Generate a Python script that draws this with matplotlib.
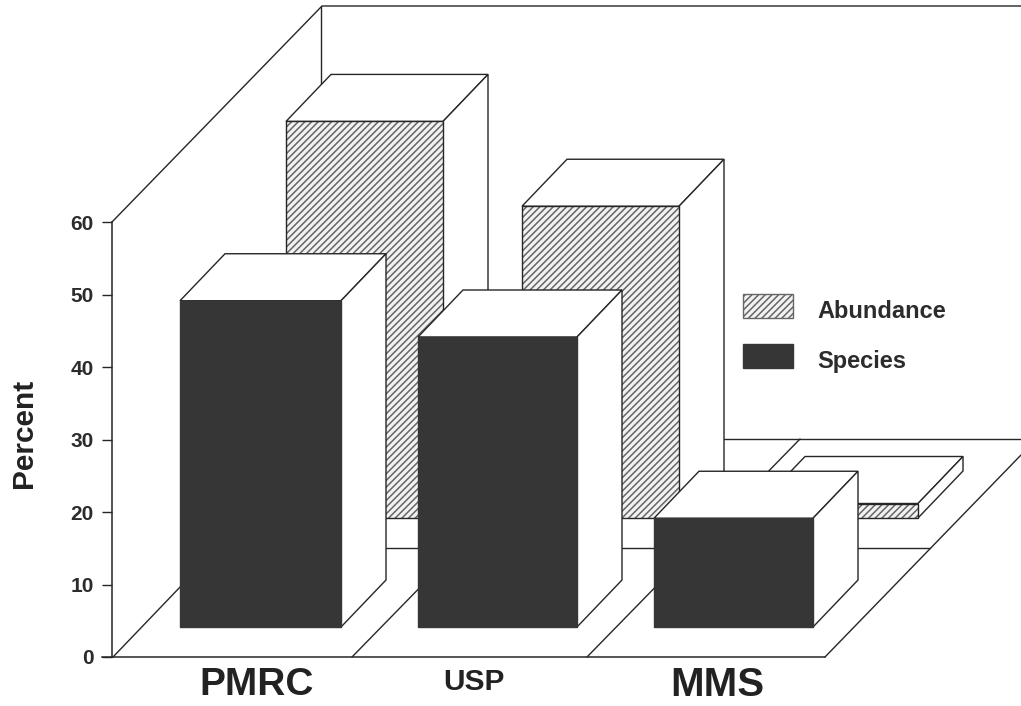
import matplotlib
matplotlib.use("Agg")
import matplotlib.pyplot as plt
from matplotlib.patches import Polygon, Patch, Rectangle
from matplotlib.legend_handler import HandlerPatch

# --- data ---
categories = ["PMRC", "USP", "MMS"]
species = [45, 40, 15]
abundance = [54.7, 43, 2]
y_ticks = [0, 10, 20, 30, 40, 50, 60]

# --- layout ---
W, H = 1021, 706
PX = 7.25
Y0 = 657
INK = "#262626"
DARK = "#363636"
HATCH = "#666666"
LW = 1.0
plt.rcParams["font.family"] = ["Liberation Sans", "DejaVu Sans"]
plt.rcParams["hatch.linewidth"] = 1.1

def v(pix):
    return (Y0 - pix) / PX

fig = plt.figure(figsize=(W / 100, H / 100), dpi=100, facecolor="white")
ax = fig.add_axes([0, 0, 1, 1])
ax.set_xlim(0, W)
ax.set_ylim(v(H), v(0))
ax.patch.set_alpha(0)

def line(xs, ys_pix, z=1):
    ax.plot(xs, [v(p) for p in ys_pix], color=INK, lw=LW, zorder=z, solid_capstyle="round")

# back wall and floor
line([112, 322, 1021], [222, 6, 6])
line([321, 321], [6, 439])
line([321, 1021], [439, 439])
line([113, 322], [657, 439])
line([352, 565], [657, 439])
line([587, 800], [657, 439])
line([825, 1021], [657, 455])
line([219, 930], [548, 548])

DX, DY = 45, 47 / PX

def bar(x0, x1, base, value, z, hatched):
    top = base + value
    front = [(x0, base), (x1, base), (x1, top), (x0, top)]
    if hatched:
        ax.add_patch(Polygon(front, closed=True, facecolor="#f2f2f2", edgecolor=HATCH,
                             hatch="/////", linewidth=0, zorder=z + 0.1))
        ax.add_patch(Polygon(front, closed=True, fill=False, edgecolor=INK, linewidth=LW, zorder=z + 0.2))
    else:
        ax.add_patch(Polygon(front, closed=True, facecolor=DARK, edgecolor=DARK, linewidth=LW, zorder=z + 0.2))
    ax.add_patch(Polygon([(x0, top), (x1, top), (x1 + DX, top + DY), (x0 + DX, top + DY)], closed=True,
                         facecolor="white", edgecolor=INK, linewidth=LW, zorder=z))
    ax.add_patch(Polygon([(x1, base), (x1 + DX, base + DY), (x1 + DX, top + DY), (x1, top)], closed=True,
                         facecolor="white", edgecolor=INK, linewidth=LW, zorder=z))

back_x = [(286, 443), (522, 679), (760, 918)]
front_x = [(180, 341), (418, 577), (654, 813)]
back_base = v(518)
front_base = v(627)

for i, (a, (x0, x1)) in enumerate(zip(abundance, back_x)):
    bar(x0, x1, back_base, a, 2 + i * 0.5, True)
for i, (s, (x0, x1)) in enumerate(zip(species, front_x)):
    bar(x0, x1, front_base, s, 4 + i * 0.5, False)

# axes
for side in ("top", "right"):
    ax.spines[side].set_visible(False)
ax.spines["left"].set_position(("data", 112))
ax.spines["left"].set_bounds(0, 60)
ax.spines["bottom"].set_position(("data", 0))
ax.spines["bottom"].set_bounds(102, 825)
for side in ("left", "bottom"):
    ax.spines[side].set_color(INK)
    ax.spines[side].set_linewidth(1.1)
    ax.spines[side].set_zorder(1.5)

ax.set_yticks(y_ticks)
ax.tick_params(axis="y", length=7.2, width=1.0, color=INK, pad=6, labelsize=15, labelcolor="#2c2c2c")
for t in ax.get_yticklabels():
    t.set_fontweight("bold")

ax.set_xticks([257, 474, 717])
ax.set_xticklabels(categories)
ax.tick_params(axis="x", length=0, labelcolor="#222222")
for tick, fs, pad in zip(ax.xaxis.get_major_ticks(), [28, 21.5, 29], [7.5, 8, 6.5]):
    tick.set_pad(pad)
    tick.label1.set_fontsize(fs)
    tick.label1.set_fontweight("bold")

ax.text(24, v(433.5), "Percent", rotation=90, ha="center", va="center",
        fontsize=21.5, fontweight="bold", color="#222222")

def swatch(legend, orig_handle, xdescent, ydescent, width, height, fontsize):
    return Rectangle((0, 0), width, fontsize)

handles = [Patch(facecolor="#f2f2f2", edgecolor=HATCH, hatch="/////", linewidth=LW),
           Patch(facecolor=DARK, edgecolor=DARK, linewidth=LW)]
ax.legend(handles, ["Abundance", "Species"], loc="upper left", bbox_to_anchor=(743, v(299)),
          bbox_transform=ax.transData, frameon=False, borderpad=0, borderaxespad=0,
          handlelength=2.1, handleheight=1.0, labelspacing=1.135,
          handletextpad=1.05, prop={"weight": "bold", "size": 17}, labelcolor="#2c2c2c",
          handler_map={Patch: HandlerPatch(patch_func=swatch)})

fig.savefig("out.png", dpi=100)
